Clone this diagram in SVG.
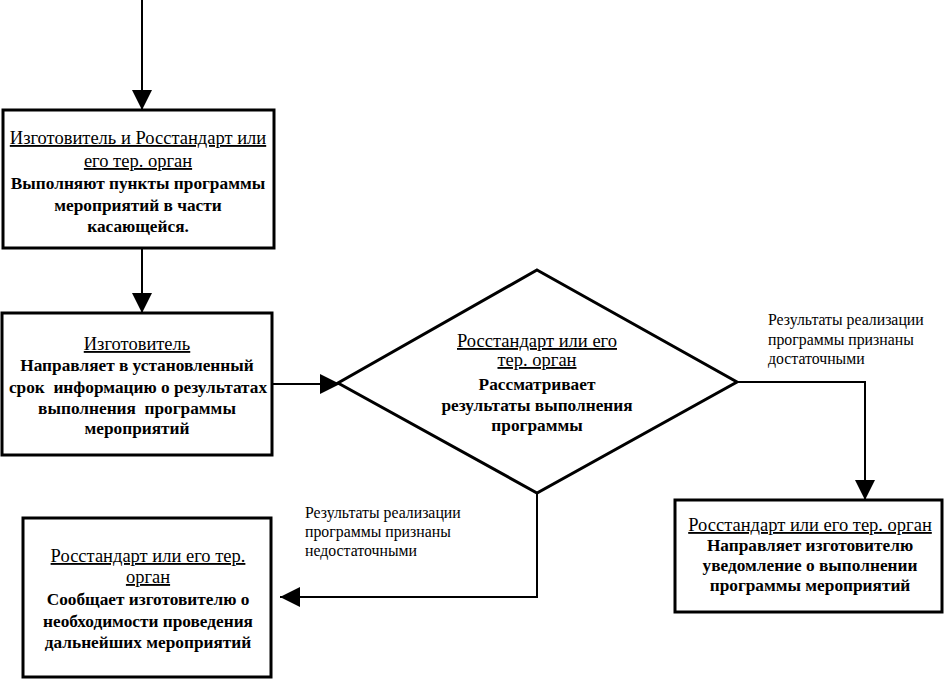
<svg xmlns="http://www.w3.org/2000/svg" width="945" height="679" viewBox="0 0 945 679">
<style>
.box{fill:#fff;stroke:#000;stroke-width:3}
.con{fill:none;stroke:#000;stroke-width:2}
text{font-family:"Liberation Serif","Times New Roman",serif;fill:#000}
.h{font-size:18.5px;text-decoration:underline;text-anchor:middle}
.b{font-size:17.3px;font-weight:bold;text-anchor:middle}
.lbl{font-size:15.8px}
</style>
<defs>
<marker id="arr" markerUnits="userSpaceOnUse" markerWidth="20" markerHeight="20" refX="20" refY="10" orient="auto">
<path d="M0,0 L20,10 L0,20 z" fill="#000"/>
</marker>
</defs>
<rect width="945" height="679" fill="#fff"/>
<g id="connectors">
<path class="con" d="M142,0 V110" marker-end="url(#arr)"/>
<path class="con" d="M142,248 V313" marker-end="url(#arr)"/>
<path class="con" d="M272,384 H340" marker-end="url(#arr)"/>
<path class="con" d="M737,382 H865 V500" marker-end="url(#arr)"/>
<path class="con" d="M537,493 V597 H280" marker-end="url(#arr)"/>
<text class="lbl" x="768" y="325">Результаты реализации</text>
<text class="lbl" x="768" y="345">программы признаны</text>
<text class="lbl" x="768" y="364">достаточными</text>
<text class="lbl" x="305" y="518">Результаты реализации</text>
<text class="lbl" x="305" y="537">программы признаны</text>
<text class="lbl" x="305" y="556">недостаточными</text>
</g>
<g id="node1">
<rect class="box" x="3" y="110" width="271" height="138"/>
<text class="h" x="138" y="144">Изготовитель и Росстандарт или</text>
<text class="h" x="138" y="167">его тер. орган</text>
<text class="b" x="138" y="189">Выполняют пункты программы</text>
<text class="b" x="138" y="211">мероприятий в части</text>
<text class="b" x="138" y="232">касающейся.</text>
</g>
<g id="node2">
<rect class="box" x="2" y="313" width="270" height="142"/>
<text class="h" x="137" y="350">Изготовитель</text>
<text class="b" x="137" y="371">Направляет в установленный</text>
<text class="b" x="138" y="393" xml:space="preserve">срок  информацию о результатах</text>
<text class="b" x="137" y="414" xml:space="preserve">выполнения  программы</text>
<text class="b" x="137" y="434">мероприятий</text>
</g>
<g id="node3">
<polygon class="box" points="537,270 737,382 537,493 338,383"/>
<text class="h" x="537" y="347">Росстандарт или его</text>
<text class="h" x="537" y="366">тер. орган</text>
<text class="b" x="537" y="390">Рассматривает</text>
<text class="b" x="537" y="411">результаты выполнения</text>
<text class="b" x="537" y="431">программы</text>
</g>
<g id="node4">
<rect class="box" x="675" y="500" width="267" height="112"/>
<text class="h" x="810" y="531">Росстандарт или его тер. орган</text>
<text class="b" x="810" y="551">Направляет изготовителю</text>
<text class="b" x="810" y="571">уведомление о выполнении</text>
<text class="b" x="810" y="591">программы мероприятий</text>
</g>
<g id="node5">
<rect class="box" x="23" y="518" width="248" height="159"/>
<text class="h" x="148" y="562">Росстандарт или его тер.</text>
<text class="h" x="148" y="583">орган</text>
<text class="b" x="148" y="605">Сообщает изготовителю о</text>
<text class="b" x="148" y="627">необходимости проведения</text>
<text class="b" x="148" y="648">дальнейших мероприятий</text>
</g>
</svg>
